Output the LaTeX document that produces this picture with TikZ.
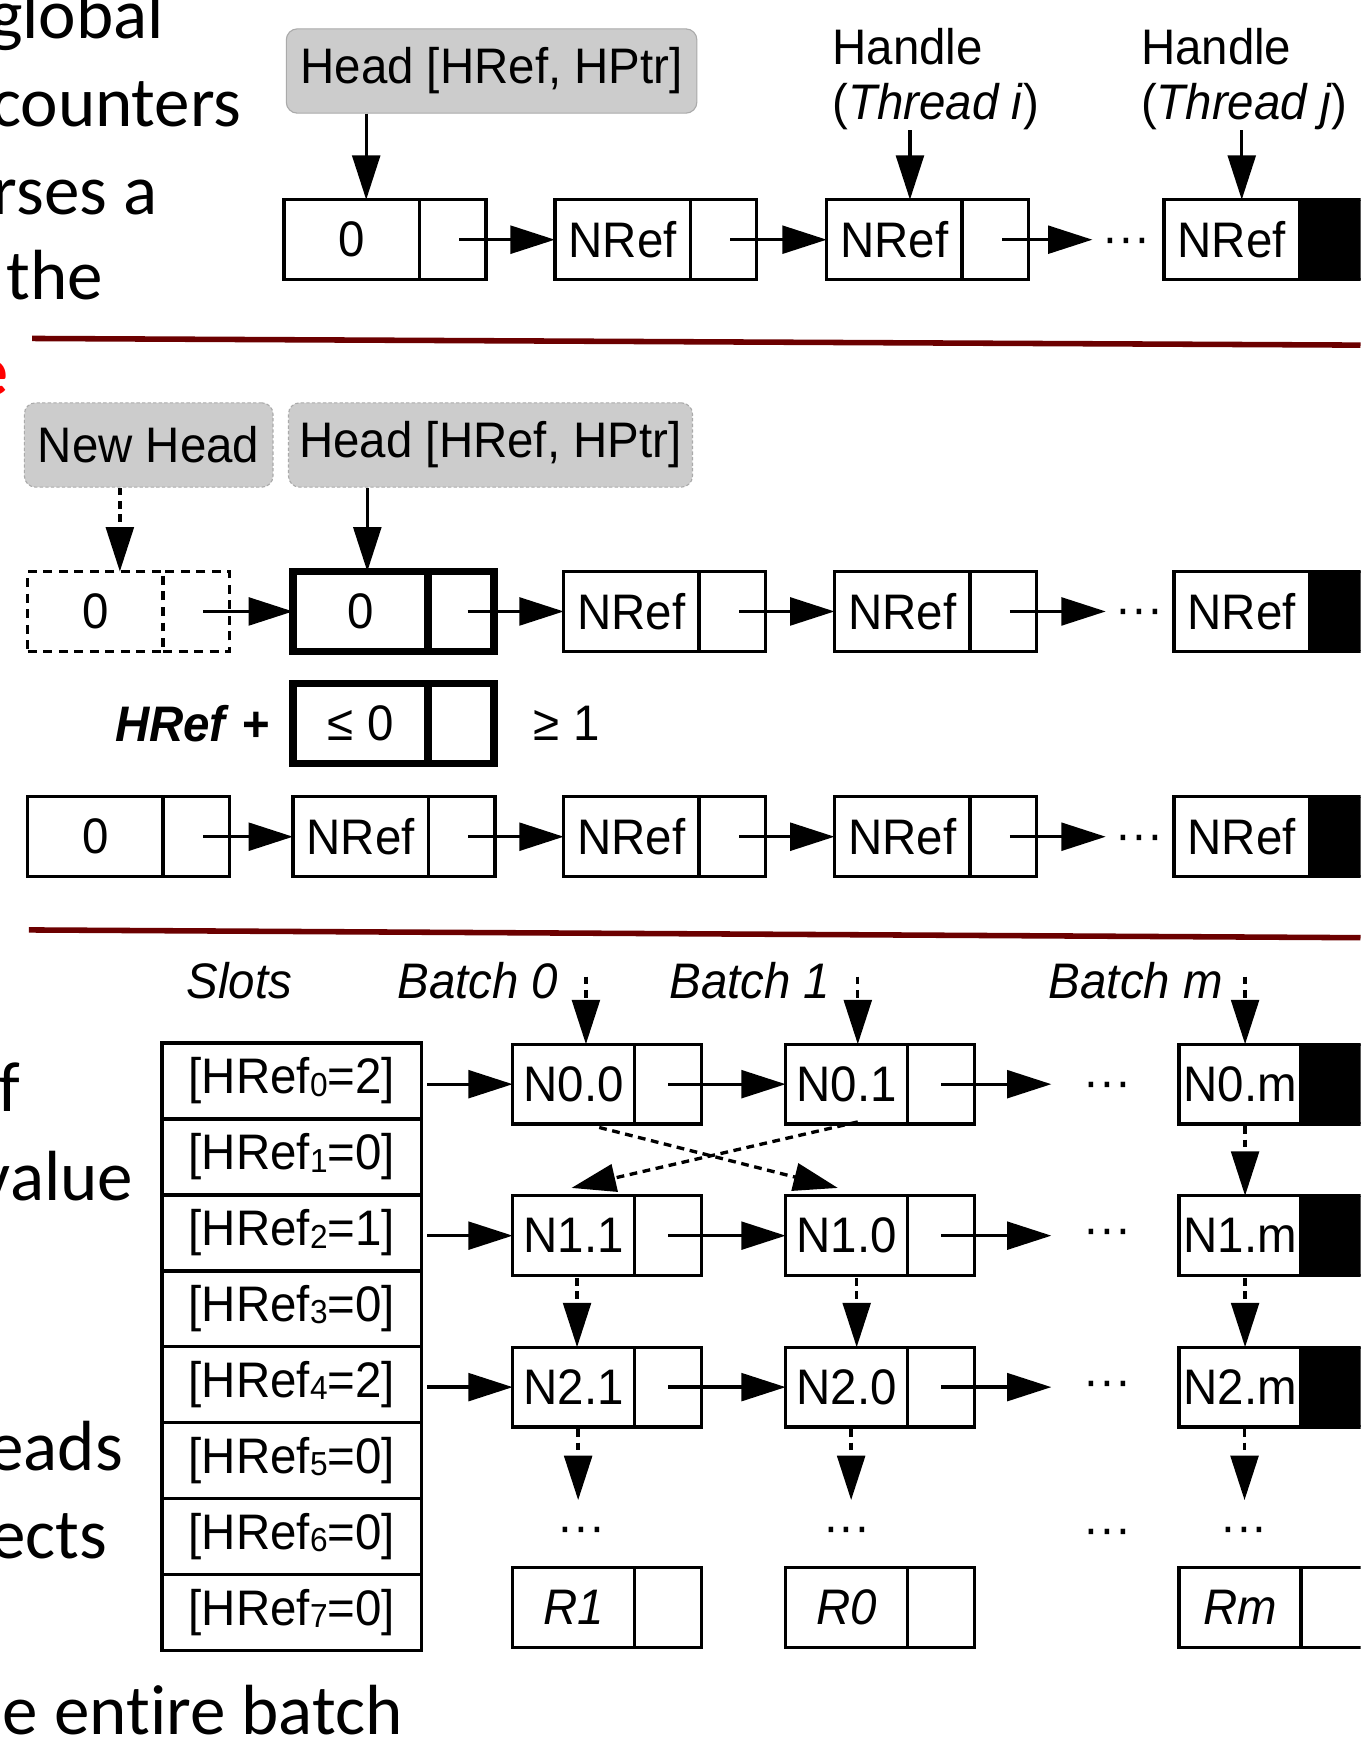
\documentclass[tikz,border=0pt]{standalone}
\usepackage{fontspec}
\setmainfont{Liberation Sans}[FakeStretch=0.95]
\newfontfamily\slidefont[Ligatures=NoCommon]{Carlito}
\usetikzlibrary{arrows.meta,calc}

\definecolor{rulered}{RGB}{108,0,0}
\definecolor{titlered}{RGB}{255,0,0}
\definecolor{headfill}{RGB}{204,204,204}
\definecolor{headline}{RGB}{170,170,170}

\newcommand\dgfont{\fontsize{45}{50}\selectfont}
% small index digit inside a slot label
\newcommand\slotidx[1]{{\fontsize{30}{30}\selectfont\raisebox{-2pt}{#1}}}
% one list node: value cell #1 at #2 with text #3, pointer cell #1p to its right
\newcommand\listcell[5]{%
  \node[valcell,#4] (#1) at (#2) {#3};
  \node[ptrcell,#5,anchor=west] (#1p) at (#1.east) {};}

\begin{document}
\begin{tikzpicture}[x=1pt,y=-1pt,
  cellbox/.style={draw, line width=3pt, minimum height=72pt, inner sep=0pt, outer sep=0pt, font=\dgfont},
  valcell/.style={cellbox, minimum width=122pt},
  ptrcell/.style={cellbox, minimum width=60pt},
  gridval/.style={minimum width=110pt},
  heavycell/.style={line width=7pt},
  ghostcell/.style={dash pattern=on 8pt off 6pt},
  headbox/.style={draw=headline, fill=headfill, line width=1pt, rounded corners=10pt, minimum height=76pt, inner sep=0pt, font=\dgfont},
  ghosthead/.style={dash pattern=on 3pt off 2pt},
  slotbox/.style={draw, line width=3pt, minimum width=234pt, minimum height=68.4pt, inner sep=0pt, outer sep=0pt, font=\dgfont},
  link/.style={line width=3pt, -{Triangle[length=40pt,width=25pt]}},
  dlink/.style={link, dash pattern=on 7pt off 5pt},
  sepline/.style={draw=rulered, line width=5pt},
  slidetext/.style={anchor=base east, inner sep=0pt, font=\slidefont\fontsize{64}{75}\selectfont},
  dotsnode/.style={inner xsep=9pt, inner ysep=0pt, text height=26pt, text depth=0pt, font=\dgfont},
  gdots/.style={dotsnode, inner xsep=29pt},
  lbl/.style={anchor=base west, inner sep=0pt, font=\dgfont},
  handle/.style={anchor=north west, align=left, inner sep=0pt, font=\dgfont},
]
\useasboundingbox (0,0) rectangle (1226,1568);
\fill[white] (0,0) rectangle (1226,1568);
\clip (0,0) rectangle (1226,1568);

% ---- slide text running in from the left
\node[slidetext] at (148,35) {global};
\node[slidetext] at (218,114) {counters};
\node[slidetext] at (142,193) {rses a};
\node[slidetext] at (93,270) {the};
\node[slidetext, text=titlered, font=\slidefont\bfseries\fontsize{64}{75}\selectfont] at (8,356) {e};
\node[slidetext] at (18,1002) {f};
\node[slidetext] at (120,1082) {value};
\node[slidetext] at (111,1325) {eads};
\node[slidetext] at (97,1404) {ects};
\node[slidetext] at (363,1563) {e entire batch};

% ---- separators
\draw[sepline] (29,305) -- (1226,311);
\draw[sepline] (26,838) -- (1226,845);

% ---- list with head and thread handles
\node[headbox, minimum width=370pt] (head) at (443,64) {Head [HRef, HPtr]};
\listcell{t0}{317,216}{0}{}{}
\listcell{t1}{561,216}{NRef}{}{}
\listcell{t2}{806,216}{NRef}{}{}
\listcell{t3}{1110,216}{NRef}{}{fill=black}
\node[dotsnode] (tdots) at (1015,216) {···};
\node[handle] (hi) at (750,25) {Handle\\(\textit{Thread i})};
\node[handle] (hj) at (1028,25) {Handle\\(\textit{Thread j})};

\path ($(t0.north)+(13,0)$) coordinate (t0in);
\path ($(t2.north)+(14,0)$) coordinate (t2in);
\path ($(t3.north)+(9,0)$) coordinate (t3in);
\draw[link] (head.south -| t0in) -- (t0in);
\draw[link] (t2in |- hi.south) -- (t2in);
\draw[link] (t3in |- hj.south) -- (t3in);
\draw[link] ($(t0p.center)+(6,0)$) -- (t1.west);
\draw[link] ($(t1p.center)+(6,0)$) -- (t2.west);
\draw[link] ($(t2p.center)+(6,0)$) -- (t2p.center -| tdots.west);

% ---- swinging the head to a new node
\node[headbox, ghosthead, minimum width=224pt] (nhead) at (134,401) {New Head};
\node[headbox, ghosthead, minimum width=364pt] (head2) at (442,401) {Head [HRef, HPtr]};
\listcell{m0}{86,551}{0}{ghostcell}{ghostcell}
\listcell{m1}{325,551}{0}{heavycell}{heavycell, minimum width=59pt}
\listcell{m2}{569,551}{NRef}{}{}
\listcell{m3}{813,551}{NRef}{}{}
\listcell{m4}{1119,551}{NRef}{}{fill=black}
\node[dotsnode] (mdots) at (1027,551) {···};

\path ($(m0.north)+(22,0)$) coordinate (m0in);
\path ($(m1.north)+(6,0)$) coordinate (m1in);
\draw[dlink] (nhead.south -| m0in) -- (m0in);
\draw[link] (head2.south -| m1in) -- (m1in);
\draw[link] ($(m0p.center)+(6,0)$) -- (m1.west);
\draw[link] ($(m1p.center)+(6,0)$) -- (m2.west);
\draw[link] ($(m2p.center)+(6,0)$) -- (m3.west);
\draw[link] ($(m3p.center)+(6,0)$) -- (m3p.center -| mdots.west);

\listcell{c0}{325,652}{≤ 0}{heavycell}{heavycell, minimum width=59pt}
\node[anchor=east, inner sep=0pt, font=\dgfont] (plus) at ($(c0.west)+(-20,0)$) {\textbf{\textit{HRef}} \textbf{+}};
\node[anchor=west, inner sep=0pt, font=\dgfont] (geq) at ($(c0p.east)+(36,0)$) {≥ 1};

\listcell{b0}{86,754}{0}{}{}
\listcell{b1}{325,754}{NRef}{}{}
\listcell{b2}{569,754}{NRef}{}{}
\listcell{b3}{813,754}{NRef}{}{}
\listcell{b4}{1119,754}{NRef}{}{fill=black}
\node[dotsnode] (bdots) at (1027,754) {···};
\draw[link] ($(b0p.center)+(6,0)$) -- (b1.west);
\draw[link] ($(b1p.center)+(6,0)$) -- (b2.west);
\draw[link] ($(b2p.center)+(6,0)$) -- (b3.west);
\draw[link] ($(b3p.center)+(6,0)$) -- (b3p.center -| bdots.west);

% ---- slots and batches
\node[lbl] (slots) at (168,900) {\textit{Slots}};
\node[lbl] (bat0) at (358,900) {\textit{Batch 0}};
\node[lbl] (bat1) at (603,900) {\textit{Batch 1}};
\node[lbl] (batm) at (945,900) {\textit{Batch m}};

\foreach \k/\v in {0/2,1/0,2/1,3/0,4/2,5/0,6/0,7/0}
  \node[slotbox] (s\k) at (263,{974.2+68.4*\k}) {[HRef\slotidx{\k}=\v]};

\listcell{n00}{517,977}{N0.0}{gridval}{}
\listcell{n01}{763,977}{N0.1}{gridval}{}
\listcell{n0m}{1117.5,977}{N0.m}{gridval}{fill=black}
\listcell{n11}{517,1113.5}{N1.1}{gridval}{}
\listcell{n10}{763,1113.5}{N1.0}{gridval}{}
\listcell{n1m}{1117.5,1113.5}{N1.m}{gridval}{fill=black}
\listcell{n21}{517,1250}{N2.1}{gridval}{}
\listcell{n20}{763,1250}{N2.0}{gridval}{}
\listcell{n2m}{1117.5,1250}{N2.m}{gridval}{fill=black}
\listcell{r1}{517,1448.5}{\textit{R1}}{gridval}{}
\listcell{r0}{763,1448.5}{\textit{R0}}{gridval}{}
\listcell{rm}{1117.5,1448.5}{\textit{Rm}}{gridval}{}

\node[gdots] (g0dots) at (998,977) {···};
\node[gdots] (g1dots) at (998,1109) {···};
\node[gdots] (g2dots) at (998,1246) {···};
\node[dotsnode] (u0) at (524,1378) {···};
\node[dotsnode] (u1) at (763,1378) {···};
\node[dotsnode] (umid) at (998,1380) {···};
\node[dotsnode] (um) at (1121,1378) {···};

% batch entry points
\path ($(n00.north)+(11,0)$) coordinate (n00in);
\path ($(n01.north)+(10,0)$) coordinate (n01in);
\path ($(n0m.north)+(4.5,0)$) coordinate (n0min);
\draw[dlink] ($(n00in)+(0,-61)$) -- (n00in);
\draw[dlink] ($(n01in)+(0,-61)$) -- (n01in);
\draw[dlink] ($(n0min)+(0,-61)$) -- (n0min);

% slots pointing to nodes
\draw[link, shorten <=5pt] (s0.east |- n00.west) -- (n00.west);
\draw[link, shorten <=5pt] (s2.east |- n11.west) -- (n11.west);
\draw[link, shorten <=5pt] (s4.east |- n21.west) -- (n21.west);

% links within each row
\draw[link] (n00p.center) -- (n01.west);
\draw[link] (n01p.center) -- (n01p.center -| g0dots.west);
\draw[link] (n11p.center) -- (n10.west);
\draw[link] (n10p.center) -- (n10p.center -| g1dots.west);
\draw[link] (n21p.center) -- (n20.west);
\draw[link] (n20p.center) -- (n20p.center -| g2dots.west);

% links between batches
\draw[dlink] ($(n00.south)+(23,3)$) -- ($(n10.north)+(-8,-7)$);
\draw[dlink] ($(n01.south)+(10,-2)$) -- ($(n11.north)+(-2,-7)$);

\path ($(n11.south)+(3,0)$) coordinate (c11);
\path ($(n10.south)+(9,0)$) coordinate (c10);
\path ($(n0m.south)+(4.5,0)$) coordinate (c0m);
\path ($(n1m.south)+(4.5,0)$) coordinate (c1m);
\path ($(n21.south)+(4,0)$) coordinate (c21);
\path ($(n20.south)+(4,0)$) coordinate (c20);
\path ($(n2m.south)+(4,0)$) coordinate (c2m);
\draw[dlink, shorten <=2pt] (c11) -- (c11 |- n21.north);
\draw[dlink, shorten <=2pt] (c10) -- (c10 |- n20.north);
\draw[dlink, shorten <=2pt] (c0m) -- (c0m |- n1m.north);
\draw[dlink, shorten <=2pt] (c1m) -- (c1m |- n2m.north);
\draw[dlink, shorten <=2pt, shorten >=13pt] (c21) -- (c21 |- u0.north);
\draw[dlink, shorten <=2pt, shorten >=13pt] (c20) -- (c20 |- u1.north);
\draw[dlink, shorten <=2pt, shorten >=13pt] (c2m) -- (c2m |- um.north);
\end{tikzpicture}
\end{document}
